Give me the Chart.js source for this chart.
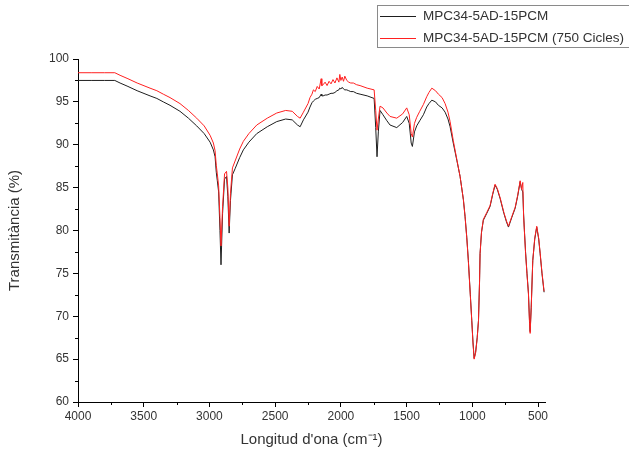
<!DOCTYPE html>
<html>
<head>
<meta charset="utf-8">
<script src="https://cdn.jsdelivr.net/npm/chart.js@4.4.1/dist/chart.umd.min.js"></script>
<style>
  html, body { margin: 0; padding: 0; background: #ffffff; }
  #wrap { width: 629px; height: 458px; }
</style>
</head>
<body>
<div id="wrap"><canvas id="ftir" width="629" height="458"></canvas></div>
<script>
// FTIR spectra: wavenumber (cm-1) and transmittance (%)
const wavenumbers = [
  4000, 3900, 3800, 3720, 3680, 3620, 3550, 3452, 3400, 3351, 3300, 3224, 3160, 3097, 3040,
  2995, 2970, 2957, 2948, 2940, 2930, 2920, 2912, 2900, 2885, 2870, 2860, 2850, 2840, 2825,
  2805, 2770, 2742, 2700, 2640, 2560, 2488, 2420, 2370, 2330, 2310, 2285,
  2250, 2235, 2220, 2209, 2195, 2180, 2165, 2150, 2145, 2135, 2120, 2105, 2090, 2075, 2060,
  2045, 2030, 2015, 2008, 2000, 1990, 1980, 1970, 1955, 1940, 1925, 1905, 1880, 1854,
  1800, 1747, 1735, 1725, 1715, 1702, 1680, 1650, 1626, 1575, 1530, 1499, 1480, 1465, 1456,
  1440, 1423, 1400, 1372, 1347, 1330, 1308, 1280, 1258, 1230, 1207, 1185, 1169, 1145, 1118,
  1093, 1068, 1055, 1042, 1030, 1015, 1004, 995, 986, 975, 963, 953, 945, 941, 930, 916,
  890, 865, 845, 827, 810, 788, 760, 740, 725, 700, 674, 655, 636, 625, 616, 610, 605, 595,
  584, 573, 565, 560, 552, 540, 525, 510, 495, 484, 470, 454
];

const transFresh = [
  97.5, 97.5, 97.5, 97.5, 97.2, 96.8, 96.3, 95.7, 95.4, 95.0, 94.6, 93.9, 93.1, 92.2, 91.3,
  90.3, 89.4, 88.6, 86.8, 85.8, 84.5, 80.0, 76.0, 82.0, 86.0, 86.3, 84.0, 79.7, 83.5, 86.5,
  87.2, 88.5, 89.4, 90.3, 91.3, 92.1, 92.7, 93.0, 92.9, 92.3, 92.1, 92.9,
  93.8, 94.4, 94.9, 95.1, 95.3, 95.4, 95.5, 95.9, 95.7, 95.7, 95.8, 95.8, 95.9, 96.0, 96.0,
  96.1, 96.3, 96.4, 96.6, 96.5, 96.7, 96.5, 96.4, 96.4, 96.3, 96.2, 96.2, 96.0, 95.9,
  95.7, 95.4, 92.0, 88.6, 91.5, 94.0, 93.5, 92.8, 92.3, 92.0, 92.6, 93.3, 92.5, 90.2, 89.8,
  91.5, 92.2, 92.8, 93.5, 94.4, 94.8, 95.2, 95.0, 94.6, 94.3, 93.8, 93.0, 92.1, 90.2, 88.2,
  86.3, 83.6, 81.6, 79.2, 76.5, 72.5, 69.5, 67.0, 65.1, 65.8, 67.5, 69.5, 74.0, 77.3, 79.8, 81.2,
  82.0, 82.8, 84.2, 85.3, 84.8, 83.7, 82.0, 81.0, 80.4, 81.5, 82.6, 84.0, 85.7, 84.8, 84.5, 82.0, 80.4, 77.5,
  75.0, 72.7, 69.5, 68.2, 71.0, 76.5, 79.0, 80.4, 79.0, 77.3, 75.0, 72.8
];

const transCycled = [
  98.4, 98.4, 98.4, 98.4, 98.1, 97.7, 97.2, 96.6, 96.3, 95.9, 95.5, 94.8, 94.0, 93.1, 92.2,
  91.1, 90.2, 89.3, 87.6, 86.6, 85.2, 81.5, 78.2, 82.8, 86.6, 86.9, 85.0, 80.5, 84.3, 87.3,
  88.1, 89.5, 90.4, 91.3, 92.3, 93.1, 93.7, 94.0, 93.9, 93.3, 93.1, 93.8,
  94.8, 95.5, 95.9, 96.4, 96.2, 96.8, 96.5, 97.7, 96.9, 97.0, 97.3, 96.9, 97.4, 97.1, 97.6,
  97.2, 97.8, 97.3, 98.2, 97.5, 97.9, 97.4, 98.0, 97.5, 97.3, 97.2, 97.2, 97.0, 96.9,
  96.6, 96.4, 94.0, 91.7, 93.0, 94.5, 94.3, 93.7, 93.3, 93.1, 93.6, 94.3, 93.5, 91.3, 90.9,
  92.5, 93.2, 93.9, 94.7, 95.6, 96.1, 96.6, 96.3, 95.9, 95.5, 94.8, 93.8, 92.7, 90.5, 88.3,
  86.3, 83.6, 81.6, 79.1, 76.4, 72.4, 69.4, 66.9, 65.0, 65.7, 67.4, 69.5, 74.0, 77.3, 79.8, 81.3,
  82.1, 82.9, 84.3, 85.4, 84.9, 83.8, 82.1, 81.1, 80.5, 81.6, 82.7, 84.1, 85.8, 84.8, 85.6, 81.8, 80.3, 77.4,
  74.9, 72.6, 69.3, 68.0, 70.9, 76.5, 79.1, 80.5, 79.1, 77.4, 75.1, 72.9
];

const seriesLabels = ['MPC34-5AD-15PCM', 'MPC34-5AD-15PCM (750 Cicles)'];
const xMajorTicks = [4000, 3500, 3000, 2500, 2000, 1500, 1000, 500];
const xMinorTicks = [3750, 3250, 2750, 2250, 1750, 1250, 750];
const yMajorTicks = [60, 65, 70, 75, 80, 85, 90, 95, 100];
const yMinorTicks = [62.5, 67.5, 72.5, 77.5, 82.5, 87.5, 92.5, 97.5];

const toPoints = (ys) => wavenumbers.map((w, i) => ({ x: w, y: ys[i] }));

// Short minor tick marks between the labelled ticks
const minorTicks = {
  id: 'minorTicks',
  afterDraw(chart) {
    const { ctx, scales: { x, y } } = chart;
    ctx.save();
    ctx.strokeStyle = '#000';
    ctx.lineWidth = 1;
    ctx.beginPath();
    xMinorTicks.forEach(v => {
      const px = Math.round(x.getPixelForValue(v)) + 0.5;
      ctx.moveTo(px, y.bottom);
      ctx.lineTo(px, y.bottom + 3);
    });
    yMinorTicks.forEach(v => {
      const py = Math.round(y.getPixelForValue(v)) + 0.5;
      ctx.moveTo(x.left, py);
      ctx.lineTo(x.left - 3, py);
    });
    ctx.stroke();
    ctx.restore();
  }
};

// Boxed legend in the upper right corner
const boxLegend = {
  id: 'boxLegend',
  afterDraw(chart) {
    const { ctx } = chart;
    const left = 377.5, top = 5.5, w = 260, h = 42;
    ctx.save();
    ctx.fillStyle = '#fff';
    ctx.fillRect(left, top, w, h);
    ctx.strokeStyle = '#8a8a8a';
    ctx.lineWidth = 1;
    ctx.strokeRect(left, top, w, h);
    ctx.font = '13.5px "Liberation Sans", Arial, sans-serif';
    ctx.textBaseline = 'middle';
    ctx.fillStyle = '#333';
    chart.data.datasets.forEach((ds, i) => {
      const yy = 16.5 + i * 22;
      ctx.strokeStyle = ds.borderColor;
      ctx.beginPath();
      ctx.moveTo(380, yy);
      ctx.lineTo(416, yy);
      ctx.stroke();
      ctx.fillText(ds.label, 423, yy);
    });
    ctx.restore();
  }
};

const tickFont = { family: '"Liberation Sans", Arial, sans-serif', size: 12 };
const titleFont = { family: '"Liberation Sans", Arial, sans-serif', size: 15 };

new Chart(document.getElementById('ftir'), {
  type: 'line',
  data: {
    datasets: [
      {
        label: seriesLabels[0],
        data: toPoints(transFresh),
        borderColor: '#1e1e1e',
        borderWidth: 1,
        pointRadius: 0,
        tension: 0,
        order: 1
      },
      {
        label: seriesLabels[1],
        data: toPoints(transCycled),
        borderColor: '#ff2020',
        borderWidth: 1,
        pointRadius: 0,
        tension: 0,
        order: 0
      }
    ]
  },
  options: {
    responsive: false,
    animation: false,
    layout: { padding: { left: 0, top: 59, right: 84, bottom: 0 } },
    plugins: {
      legend: { display: false },
      tooltip: { enabled: false }
    },
    scales: {
      x: {
        type: 'linear',
        reverse: true,
        min: 447,
        max: 4000,
        afterBuildTicks: (scale) => { scale.ticks = xMajorTicks.map(v => ({ value: v })); },
        afterFit: (scale) => { scale.height = 56; },
        border: { display: true, color: '#000', width: 1 },
        grid: { display: true, drawOnChartArea: false, tickLength: 5, tickColor: '#000' },
        ticks: {
          color: '#333',
          font: tickFont,
          padding: 2,
          maxRotation: 0,
          autoSkip: false,
          callback: (v) => String(v)
        },
        title: {
          display: true,
          text: "Longitud d'ona (cm\u207B\u00B9)",
          color: '#333',
          font: titleFont,
          padding: { top: 0, bottom: 9 }
        }
      },
      y: {
        type: 'linear',
        min: 60,
        max: 100,
        afterBuildTicks: (scale) => { scale.ticks = yMajorTicks.map(v => ({ value: v })); },
        afterFit: (scale) => { scale.width = 78; },
        border: { display: true, color: '#000', width: 1 },
        grid: { display: true, drawOnChartArea: false, tickLength: 5, tickColor: '#000' },
        ticks: {
          color: '#333',
          font: tickFont,
          padding: 4,
          autoSkip: false,
          callback: (v) => String(v)
        },
        title: {
          display: true,
          text: 'Transmitància (%)',
          color: '#333',
          font: titleFont,
          padding: { top: 6, bottom: 0 }
        }
      }
    }
  },
  plugins: [minorTicks, boxLegend]
});
</script>
</body>
</html>
